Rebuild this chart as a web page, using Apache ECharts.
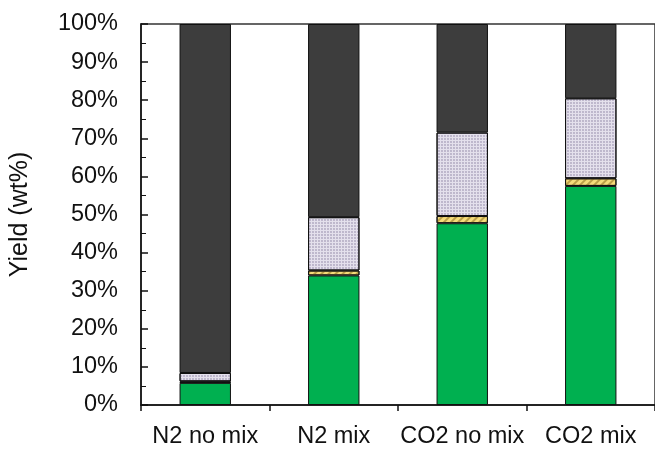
<!DOCTYPE html>
<html><head><meta charset="utf-8">
<script src="https://cdn.jsdelivr.net/npm/echarts@6/dist/echarts.min.js"></script>
<style>html,body{margin:0;padding:0;background:#fff}#c{width:655px;height:453px}</style>
</head><body><div id="c"></div>
<script>
const categories = ['N2 no mix', 'N2 mix', 'CO2 no mix', 'CO2 mix'];
const greenVals = [5.8, 34.0, 47.7, 57.5];
const yellowVals = [0.4, 1.3, 1.9, 2.0];
const lavenderVals = [2.2, 14.0, 21.9, 21.0];
const darkVals = [91.6, 50.7, 28.5, 19.5];
const yTicks = [0, 10, 20, 30, 40, 50, 60, 70, 80, 90, 100];

const font = 'Liberation Sans, Arial, sans-serif';
const border = {borderColor: '#111', borderWidth: 1};
function mk(name, data, style) {
  return {name, type: 'bar', stack: 'a', data, barWidth: '40%', itemStyle: Object.assign({}, border, style), emphasis: {disabled: true}};
}
const chart = echarts.init(document.getElementById('c'), null, {renderer: 'canvas'});
chart.setOption({
  animation: false,
  grid: {left: 141, top: 24, right: -6, bottom: 48, show: true, borderColor: '#333', borderWidth: 1.5, backgroundColor: 'transparent'},
  xAxis: {
    type: 'category', data: categories,
    axisLine: {lineStyle: {color: '#111', width: 1.5}},
    axisTick: {show: true, interval: 0, length: 6, lineStyle: {color: '#111', width: 1.5}},
    axisLabel: {interval: 0, fontFamily: font, fontSize: 23.5, color: '#111', margin: 20}
  },
  yAxis: {
    type: 'value', min: 0, max: 100, interval: 10,
    name: 'Yield (wt%)', nameLocation: 'middle', nameGap: 108,
    nameTextStyle: {fontFamily: font, fontSize: 25, color: '#111'},
    axisLine: {show: true, lineStyle: {color: '#111', width: 1.5}},
    axisTick: {show: true, inside: true, length: 7, lineStyle: {color: '#111', width: 1.5}},
    minorTick: {show: true, splitNumber: 2, length: 5, lineStyle: {color: '#111', width: 1}},
    splitLine: {show: false},
    axisLabel: {fontFamily: font, fontSize: 23.5, color: '#111', margin: 23,
      formatter: v => yTicks.includes(v) ? v + '%' : ''}
  },
  series: [
    mk('green', greenVals, {color: '#00b050'}),
    mk('yellow', yellowVals, {color: '#f5dc7a', decal: {symbol: 'rect', symbolSize: 1, color: 'rgba(150,120,40,0.6)', dashArrayX: [1, 0], dashArrayY: [1.5, 2.5], rotation: -Math.PI / 4}}),
    mk('lavender', lavenderVals, {color: '#e4e0ec', decal: {symbol: 'circle', symbolSize: 0.9, color: 'rgba(120,110,145,0.5)', dashArrayX: [2, 1], dashArrayY: [2, 1], rotation: 0}}),
    mk('dark', darkVals, {color: '#3d3d3d'})
  ]
});
</script></body></html>
